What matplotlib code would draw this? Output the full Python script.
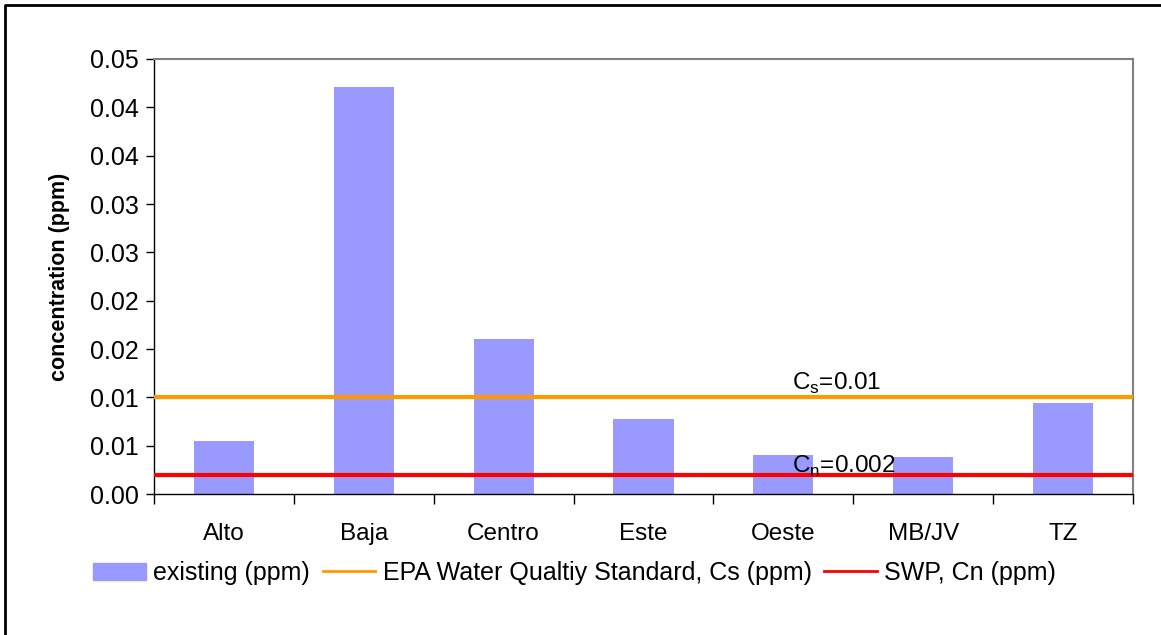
import matplotlib.pyplot as plt
import matplotlib.patches as mpatches
from matplotlib.lines import Line2D

# data
sites = ['Alto', 'Baja', 'Centro', 'Este', 'Oeste', 'MB/JV', 'TZ']
existing = [0.0055, 0.0421, 0.0160, 0.0078, 0.0040, 0.0038, 0.0094]
cs_value = 0.01
cn_value = 0.002
y_ticks = [0, 0.005, 0.01, 0.015, 0.02, 0.025, 0.03, 0.035, 0.04, 0.045]
y_tick_labels = ['0.00', '0.01', '0.01', '0.02', '0.02', '0.03', '0.03', '0.04', '0.04', '0.05']

plt.rcParams['font.family'] = ['Liberation Sans', 'DejaVu Sans']

fig = plt.figure(figsize=(11.61, 6.35), dpi=100)
ax = fig.add_axes([0.1326, 0.222, 0.8433, 0.6851])

x = list(range(len(sites)))
ax.bar(x, existing, width=0.43, color='#9999ff', zorder=2)
ax.axhline(cs_value, color='#ff9900', lw=3, zorder=3)
ax.axhline(cn_value, color='#ff0000', lw=3, zorder=3)

ax.text(4.06, cs_value + 0.0001, r'C$_\mathregular{s}$=0.01', fontsize=17.5, va='bottom', zorder=4)
ax.text(4.06, cn_value - 0.0004, r'C$_\mathregular{n}$=0.002', fontsize=17.5, va='bottom', zorder=4)

ax.set_xlim(-0.5, len(sites) - 0.5)
ax.set_ylim(0, 0.045)
ax.set_yticks(y_ticks)
ax.set_yticklabels(y_tick_labels, fontsize=18)
ax.set_xticks(x)
ax.set_xticklabels(sites, fontsize=17.5)
ax.tick_params(axis='x', length=0, pad=21)
ax.tick_params(axis='y', length=6, direction='out', width=1, pad=5)
# category separator ticks
ax.set_xticks([i - 0.5 for i in range(len(sites) + 1)], minor=True)
ax.tick_params(axis='x', which='minor', length=7, width=1)
ax.set_ylabel('concentration (ppm)', fontsize=15.5, fontweight='bold', labelpad=14)

for side in ['top', 'right']:
    ax.spines[side].set_color('#808080')
    ax.spines[side].set_linewidth(1.5)
for side in ['left', 'bottom']:
    ax.spines[side].set_color('black')
    ax.spines[side].set_linewidth(1)

handles = [
    mpatches.Patch(color='#9999ff', label='existing (ppm)'),
    Line2D([0], [0], color='#ff9900', lw=2, label='EPA Water Qualtiy Standard, Cs (ppm)'),
    Line2D([0], [0], color='#ff0000', lw=2, label='SWP, Cn (ppm)'),
]
fig.legend(handles=handles, loc='center', bbox_to_anchor=(0.495, 0.0976), ncol=3,
           frameon=False, fontsize=18, handlelength=2.1, handletextpad=0.3,
           columnspacing=0.5)

# outer chart border (only top and left edges fall inside the image)
fig.add_artist(Line2D([5 / 1161, 5 / 1161, 1.0], [0.0, 1 - 5 / 635, 1 - 5 / 635],
                      transform=fig.transFigure, color='black', lw=2))

fig.savefig('out.png', dpi=100)
